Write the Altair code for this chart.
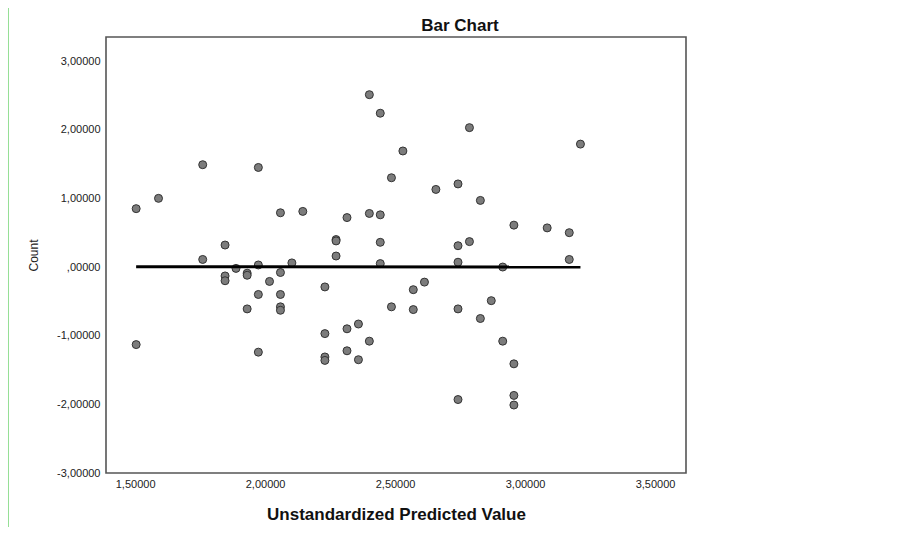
import altair as alt
import pandas as pd

# Predicted values (x) and residuals (y)
pred = [1.504, 1.504, 1.590, 1.760, 1.760, 1.846, 1.846, 1.846, 1.888, 1.931,
        1.931, 1.931, 1.974, 1.974, 1.974, 1.974, 2.017, 2.059, 2.059, 2.059,
        2.059, 2.059, 2.103, 2.145, 2.230, 2.230, 2.230, 2.230, 2.273, 2.273,
        2.273, 2.315, 2.315, 2.315, 2.359, 2.359, 2.401, 2.401, 2.401, 2.443,
        2.443, 2.443, 2.443, 2.486, 2.486, 2.530, 2.570, 2.570, 2.613, 2.657,
        2.742, 2.742, 2.742, 2.742, 2.742, 2.786, 2.786, 2.828, 2.828, 2.870,
        2.914, 2.914, 2.957, 2.957, 2.957, 2.957, 3.085, 3.170, 3.170, 3.213]
resid = [0.85, -1.13, 1.00, 1.49, 0.11, 0.32, -0.13, -0.20, -0.02, -0.09,
         -0.12, -0.61, 1.45, 0.03, -0.40, -1.24, -0.21, 0.79, -0.08, -0.40,
         -0.58, -0.63, 0.06, 0.81, -0.29, -0.97, -1.31, -1.36, 0.40, 0.38,
         0.16, 0.72, -0.90, -1.22, -0.83, -1.35, 2.51, 0.78, -1.08, 2.24,
         0.76, 0.36, 0.05, 1.30, -0.58, 1.69, -0.33, -0.62, -0.22, 1.13,
         1.21, 0.31, 0.07, -0.61, -1.93, 2.03, 0.37, 0.97, -0.75, -0.49,
         -0.00, -1.08, 0.61, -1.41, -1.87, -2.01, 0.57, 0.50, 0.11, 1.79]

# Fit line end points
fit_x = [1.504, 3.213]
fit_y = [0.005, 0.0]

x_ticks = [1.5, 2.0, 2.5, 3.0, 3.5]
y_ticks = [-3, -2, -1, 0, 1, 2, 3]

pts = pd.DataFrame({"x": pred, "y": resid})
fit = pd.DataFrame({"x": fit_x, "y": fit_y})

FONT = "Liberation Sans"
label_expr = ("datum.value == 0 ? ',00000' : "
              "replace(replace(format(datum.value, '.5f'), '.', ','), '\u2212', '-')")

xscale = alt.Scale(domain=[1.388, 3.619], nice=False, zero=False)
yscale = alt.Scale(domain=[-3.0, 3.35], nice=False, zero=False)

xaxis = alt.Axis(values=x_ticks, labelExpr=label_expr, grid=False, domain=False,
                 ticks=False, labelPadding=5, labelFont=FONT, labelFontSize=11,
                 labelColor="#222222", title="Unstandardized Predicted Value",
                 titleFont=FONT, titleFontSize=17, titleFontWeight="bold",
                 titleColor="#111111", titleBaseline="alphabetic", titleY=46,
                 titleX=290, titleAlign="center")
yaxis = alt.Axis(values=y_ticks, labelExpr=label_expr, grid=False, domain=False,
                 ticks=False, labelPadding=6, labelFont=FONT, labelFontSize=11,
                 labelColor="#222222", title="Count", titleFont=FONT,
                 titleFontSize=12, titleFontWeight="normal", titleColor="#222222",
                 titleBaseline="middle", titleX=-73, titleY=218,
                 titleAlign="center", titleAngle=-90)

points = alt.Chart(pts).mark_point(
    filled=True, size=64, fill="#7c7c7c", stroke="#333333", strokeWidth=1,
    opacity=1
).encode(
    x=alt.X("x:Q", scale=xscale, axis=xaxis),
    y=alt.Y("y:Q", scale=yscale, axis=yaxis),
)

line = alt.Chart(fit).mark_line(color="#000000", strokeWidth=3).encode(
    x=alt.X("x:Q", scale=xscale),
    y=alt.Y("y:Q", scale=yscale),
)

edge = alt.Chart(fit).mark_rule(color="#8fdc8f", strokeWidth=1.5).encode(
    x=alt.value(-98), y=alt.value(-29), y2=alt.value(490)
)

chart = alt.layer(points, line, edge).properties(
    width=580,
    height=436,
    autosize=alt.AutoSizeParams(type="none"),
    padding={"left": 98, "top": 29, "right": 207, "bottom": 54},
    title=alt.TitleParams("Bar Chart", font=FONT, fontSize=17, fontWeight="bold",
                          color="#111111", anchor="middle", dx=64, offset=-41,
                          baseline="alphabetic"),
).configure(
    background="#ffffff",
    view=alt.ViewConfig(stroke="#555555", strokeWidth=1.6),
)

chart.save("out.html", embed_options={"renderer": "svg", "actions": False})
